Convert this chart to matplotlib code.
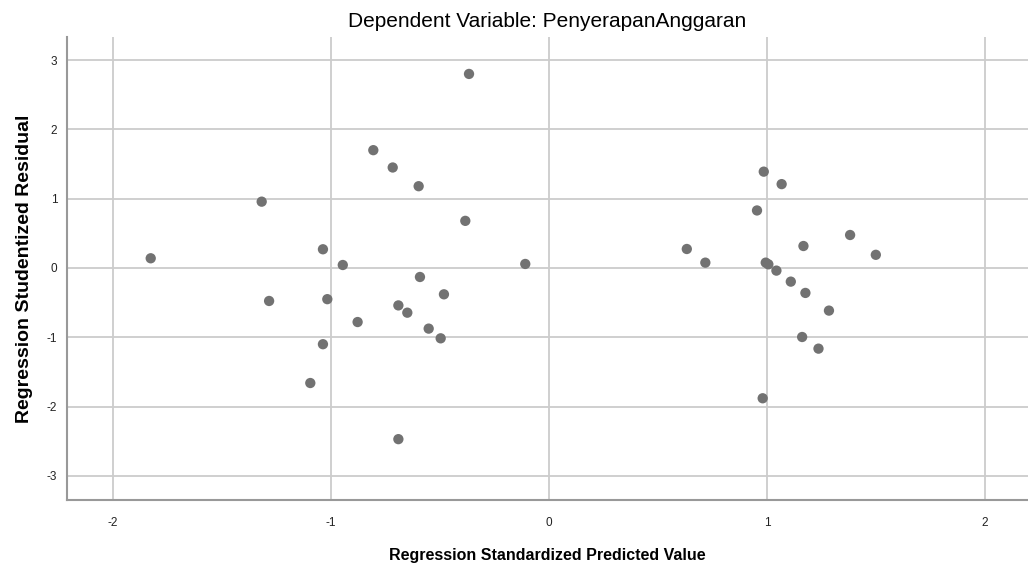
import matplotlib.pyplot as plt

plt.rcParams['font.family'] = ['Liberation Sans', 'DejaVu Sans']
plt.rcParams['axes.unicode_minus'] = False

# standardized predicted values (x) and studentized residuals (y)
pred = [-1.827, -1.318, -0.806, -0.717, -0.598, -0.384, -0.367, -1.037, -0.946,
        -0.109, -0.592, -1.284, -1.017, -0.482, -0.691, -0.650, -0.878, -0.552,
        -0.497, -1.037, -1.095, -0.691,
        0.985, 1.067, 0.954, 1.381, 1.167, 1.499, 0.632, 0.717, 0.994, 1.006,
        1.043, 1.109, 1.176, 1.284, 1.161, 1.236, 0.980]
resid = [0.14, 0.957, 1.70, 1.45, 1.18, 0.68, 2.80, 0.27, 0.043,
         0.058, -0.13, -0.476, -0.45, -0.38, -0.54, -0.645, -0.78, -0.875,
         -1.015, -1.10, -1.66, -2.47,
         1.39, 1.21, 0.83, 0.476, 0.317, 0.19, 0.274, 0.077, 0.077, 0.053,
         -0.038, -0.197, -0.36, -0.615, -0.996, -1.164, -1.88]

xticks = [-2, -1, 0, 1, 2]
yticks = [-3, -2, -1, 0, 1, 2, 3]

fig = plt.figure(figsize=(10.28, 5.68), dpi=100)
ax = fig.add_axes([67 / 1028, 68 / 568, 961 / 1028, 463 / 568])

ax.grid(True, color='#cccccc', linewidth=1.3)
ax.set_axisbelow(True)
ax.scatter(pred, resid, s=55, color='#727272', edgecolors='none', zorder=3)

ax.set_xlim(-2.211, 2.197)
ax.set_ylim(-3.348, 3.333)
ax.set_xticks(xticks)
ax.set_yticks(yticks)
ax.tick_params(length=0, labelsize=8.5, colors='#222222', pad=7)
ax.tick_params(axis='x', pad=12)

for side in ['top', 'right']:
    ax.spines[side].set_visible(False)
for side in ['left', 'bottom']:
    ax.spines[side].set_color('#999999')
    ax.spines[side].set_linewidth(1.5)

ax.set_title('Dependent Variable: PenyerapanAnggaran', fontsize=15, pad=7)
ax.set_xlabel('Regression Standardized Predicted Value', fontsize=11.5, fontweight='bold', labelpad=14)
ax.set_ylabel('Regression Studentized Residual', fontsize=14, fontweight='bold', labelpad=10)

fig.savefig('out.png', dpi=100)
